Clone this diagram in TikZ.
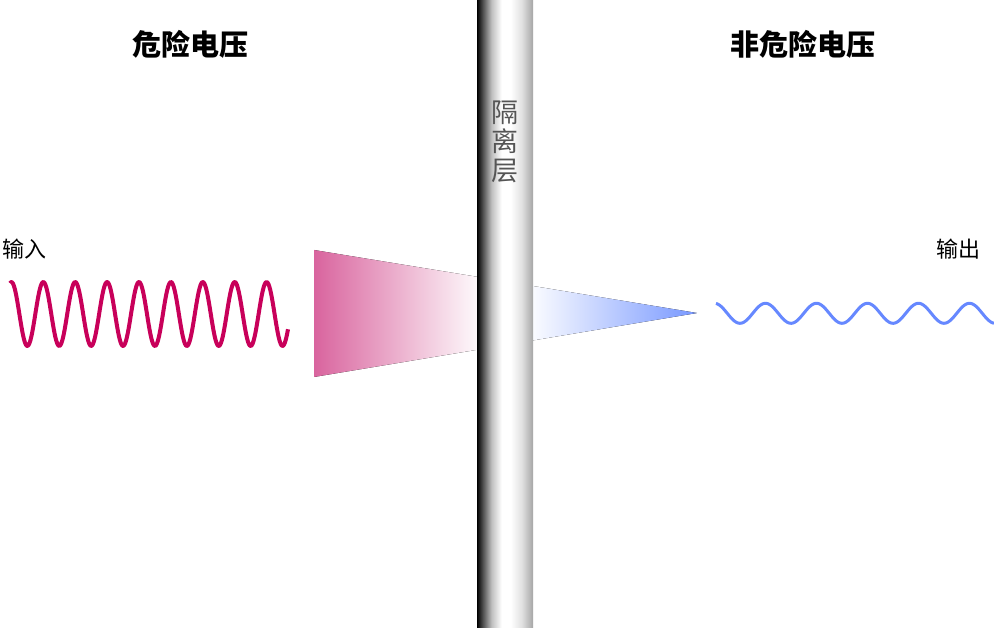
\documentclass[tikz,border=0pt]{standalone}
\usepackage{fontspec}
\newfontfamily\cjk{Noto Sans CJK SC}
\usetikzlibrary{calc}
\definecolor{pinkc}{RGB}{217,100,158}
\definecolor{bluec}{RGB}{120,152,255}
\definecolor{waveL}{RGB}{200,0,90}
\definecolor{waveR}{RGB}{102,136,255}
\definecolor{bartext}{RGB}{85,85,85}
\pgfdeclarehorizontalshading{barriershade}{100bp}{color(0bp)=(black); color(25bp)=(black); color(30bp)=(black!70); color(38bp)=(black!25); color(47bp)=(white); color(55bp)=(white); color(65bp)=(black!12); color(75bp)=(black!35); color(100bp)=(black!35)}
\tikzset{
  title/.style={font=\cjk\bfseries\fontsize{29}{32}\selectfont, text=black, inner sep=0pt},
  lbl/.style={font=\cjk\fontsize{22}{24}\selectfont, text=black, inner sep=0pt},
  vlbl/.style={font=\cjk\fontsize{27}{29}\selectfont, text=bartext, inner sep=0pt, align=center},
}
\begin{document}
\begin{tikzpicture}[x=1pt,y=-1pt]
\useasboundingbox[fill=white] (0,0) rectangle (994,628);
% cone
\begin{scope}
  \clip (314,250) -- (697,313) -- (314,377) -- cycle;
  \fill[left color=pinkc, right color=white, draw=none] (314,240) rectangle (484,390);
  \fill[left color=white, right color=bluec, draw=none] (526,240) rectangle (697,390);
\end{scope}
% barrier
\node[draw=none, inner sep=0pt, minimum width=56pt, minimum height=628pt, shading=barriershade] (barrier) at (505,314) {};
\node[vlbl] (barlabel) at (505,142) {隔\\离\\层};
% titles
\node[title] (tleft) at (190,44) {危险电压};
\node[title] (tright) at (803,44) {非危险电压};
% labels
\node[lbl] (inlbl) at (24.5,249) {输入};
\node[lbl] (outlbl) at (958.5,249) {输出};
% waves
\draw[waveL, line width=4pt, line join=round] plot[domain=10:288, samples=300, smooth] (\x, {314-32*cos(11.2853*(\x-11.4))});
\draw[waveR, line width=3pt, line join=round] plot[domain=716:994, samples=200, smooth] (\x, {313.3-10*cos(7.0588*(\x-714.5))});
\end{tikzpicture}
\end{document}
